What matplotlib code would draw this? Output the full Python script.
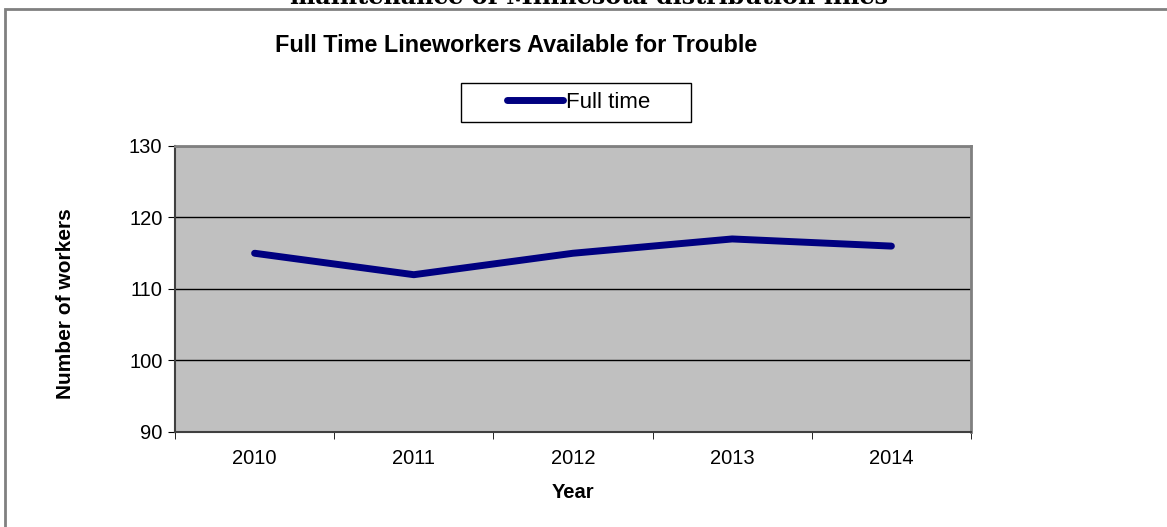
import matplotlib
matplotlib.use("Agg")
import matplotlib.pyplot as plt
from matplotlib.patches import Rectangle
from matplotlib.lines import Line2D

years = ["2010", "2011", "2012", "2013", "2014"]
full_time = [115, 112, 115, 117, 116]
series_name = "Full time"
title = "Full Time Lineworkers Available for Trouble"
heading = "maintenance of Minnesota distribution lines"
y_ticks = [90, 100, 110, 120, 130]

plt.rcParams['font.family'] = ['Liberation Sans', 'DejaVu Sans']

W, H = 1167, 527
fig = plt.figure(figsize=(W / 100, H / 100), dpi=100)
fig.patch.set_facecolor('white')

# outer chart frame (extends beyond right and bottom)
fig.add_artist(Rectangle((5 / W, -0.1), 1.2, (H - 9) / H + 0.1, transform=fig.transFigure,
                         fill=False, edgecolor='#808080', linewidth=2))

# clipped heading at top
fig.text(589 / W, 1 - 4 / H, heading, ha='center', va='baseline',
         family='DejaVu Serif', fontweight='bold', fontsize=17.2)

l, r, t, b = 175, 971, 146, 432
ax = fig.add_axes([l / W, 1 - b / H, (r - l) / W, (b - t) / H])
ax.set_facecolor('#C0C0C0')

x = list(range(len(years)))
ax.plot(x, full_time, color='#000080', linewidth=5, solid_capstyle='round',
        solid_joinstyle='round', label=series_name, zorder=3)

ax.set_xlim(-0.5, len(years) - 0.5)
ax.set_ylim(y_ticks[0], y_ticks[-1])
ax.set_yticks(y_ticks)
ax.set_xticks(x)
ax.set_xticklabels(years)
ax.set_xticks([i - 0.5 for i in range(len(years) + 1)], minor=True)
ax.tick_params(axis='x', which='major', length=0, pad=12, labelsize=14.5)
ax.tick_params(axis='x', which='minor', length=5, direction='out', color='black')
ax.tick_params(axis='y', length=5, direction='out', labelsize=14.5, pad=4)

ax.grid(axis='y', color='black', linewidth=1)

for s in ['top', 'right']:
    ax.spines[s].set_color('#808080')
    ax.spines[s].set_linewidth(2)
ax.spines['left'].set_color('#404040')
ax.spines['left'].set_linewidth(1.5)
ax.spines['bottom'].set_color('#404040')
ax.spines['bottom'].set_linewidth(1.5)

ax.set_xlabel("Year", fontweight='bold', fontsize=14.5, labelpad=11)
ax.set_ylabel("Number of workers", fontweight='bold', fontsize=15)
ax.yaxis.set_label_coords((65 - l) / (r - l), (b - 304) / (b - t))
ax.yaxis.label.set_va('center')

fig.text(516 / W, 1 - 46 / H, title, ha='center', va='center', fontweight='bold', fontsize=16.8)

# legend box
fig.add_artist(Rectangle((461 / W, 1 - 122 / H), 230 / W, 39 / H, transform=fig.transFigure,
                         fill=True, facecolor='white', edgecolor='black', linewidth=1))
leg = fig.legend(handles=[Line2D([0], [0], color='#000080', linewidth=5, solid_capstyle='round')],
                 labels=[series_name], loc='center', bbox_to_anchor=(579 / W, 1 - 102.5 / H),
                 frameon=False, fontsize=16,
                 handlelength=2.5, handletextpad=0.15, borderpad=0.2, borderaxespad=0)

fig.savefig("out.png", dpi=100)
